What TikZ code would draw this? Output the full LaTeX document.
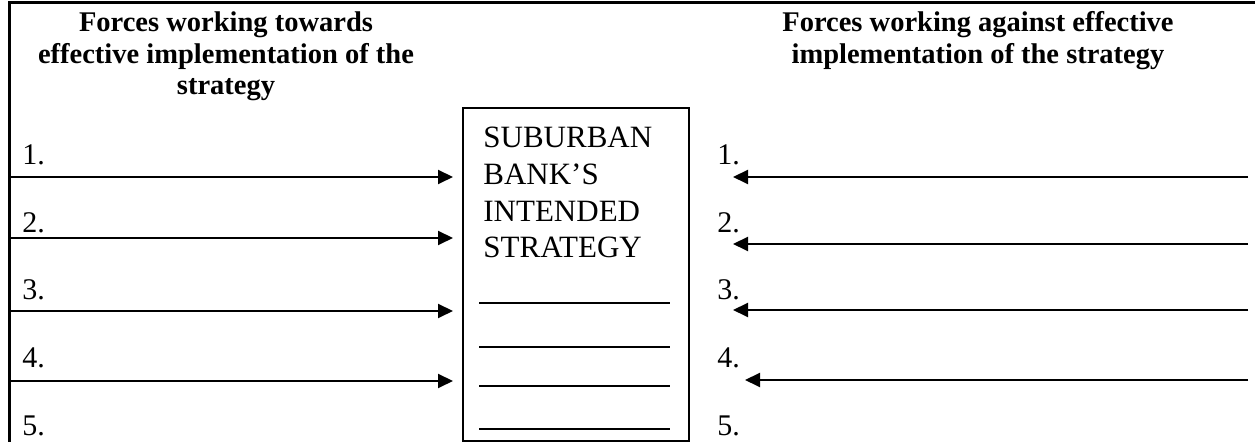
\documentclass[tikz,border=0pt]{standalone}
\usepackage{fontspec}
\setmainfont{Liberation Serif}
\usetikzlibrary{arrows.meta}
\begin{document}
\begin{tikzpicture}[x=0.5pt,y=-0.5pt,
  frame/.style={line width=1.5pt},
  force/.style={line width=1pt,-{Triangle[length=7.5pt,width=7pt]}},
  blank/.style={line width=1pt},
  heading/.style={font=\bfseries\fontsize{14.25pt}{15.75pt}\selectfont, align=center, inner sep=0pt, anchor=base},
  num/.style={font=\fontsize{15pt}{18pt}\selectfont, inner sep=0pt, anchor=base west},
  boxtext/.style={font=\fontsize{15.5pt}{18.35pt}\selectfont, align=left, inner sep=0pt, anchor=base west},
  strategybox/.style={draw, line width=1pt, anchor=north west, minimum width=113pt, minimum height=166.5pt, inner sep=0pt}
]
\useasboundingbox (0,0) rectangle (1255,442);
% frame
\coordinate (ftl) at (9,3);
\coordinate (ftr) at (1255,3);
\coordinate (fbl) at (9,442);
\draw[frame] (fbl) -- (ftl) -- (ftr);
% headings (base anchor = baseline of the last line)
\node[heading] (hl) at (226,95) {Forces working towards\\effective implementation of the\\strategy};
\node[heading] (hr) at (978,63.5) {Forces working against effective\\implementation of the strategy};
% central box
\node[strategybox] (box) at (462,107) {};
\node[boxtext] (title) at (483,258) {SUBURBAN\\BANK’S\\INTENDED\\STRATEGY};
\foreach \i/\y in {1/303,2/347,3/386,4/429}{
  \coordinate (bs\i) at (479,\y);
  \coordinate (be\i) at (670,\y);
  \draw[blank] (bs\i) -- (be\i);
}
% numbers
\foreach \i/\y in {1/165,2/233,3/300,4/368,5/436}{
  \node[num] (ln\i) at (22,\y) {\i.};
  \node[num] (rn\i) at (717,\y) {\i.};
}
% left arrows
\foreach \i/\y in {1/177,2/238,3/311,4/381}{
  \coordinate (las\i) at (10,\y);
  \coordinate (lae\i) at (453,\y);
  \draw[force] (las\i) -- (lae\i);
}
% right arrows
\foreach \i/\y/\t in {1/177/733,2/244/733,3/310/733,4/380/745}{
  \coordinate (ras\i) at (1248,\y);
  \coordinate (rae\i) at (\t,\y);
  \draw[force] (ras\i) -- (rae\i);
}
\end{tikzpicture}
\end{document}
